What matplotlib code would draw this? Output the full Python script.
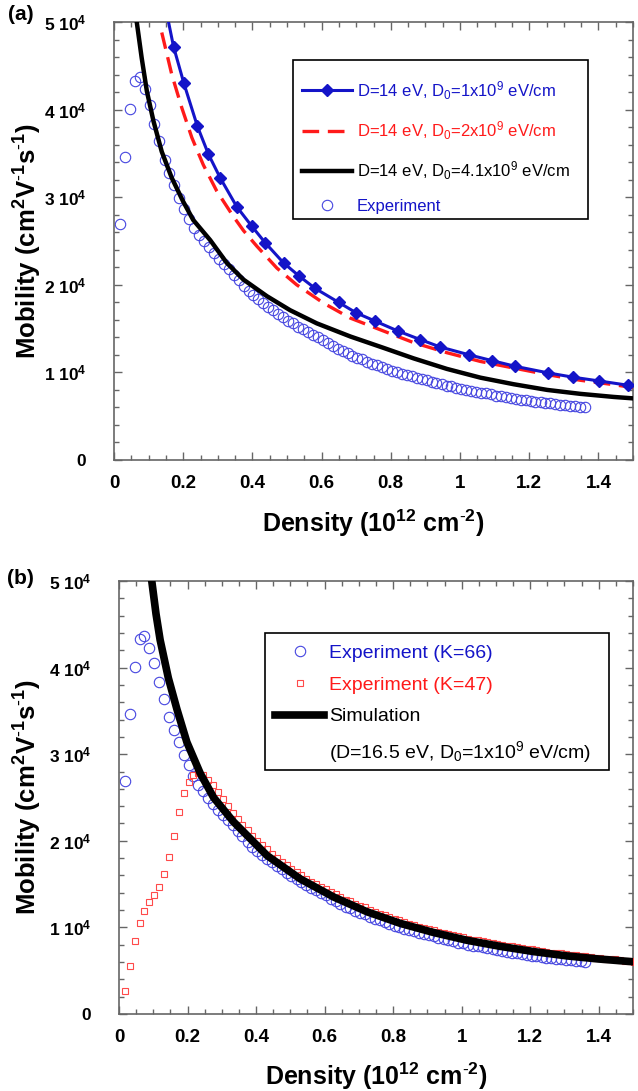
import matplotlib
matplotlib.use('Agg')
import matplotlib.pyplot as plt
from matplotlib.lines import Line2D
from matplotlib.patches import Rectangle
from matplotlib.ticker import FixedLocator, MultipleLocator

plt.rcParams['font.family'] = ['Liberation Sans', 'DejaVu Sans']
plt.rcParams['mathtext.fontset'] = 'custom'
plt.rcParams['mathtext.rm'] = 'Liberation Sans'
plt.rcParams['mathtext.it'] = 'Liberation Sans:italic'
plt.rcParams['mathtext.bf'] = 'Liberation Sans:bold'
plt.rcParams['mathtext.default'] = 'regular'

# ---- data (density in 1e12 cm^-2, mobility in cm^2/Vs) ----
density = [
    0.017, 0.031, 0.046, 0.060, 0.074, 0.089, 0.103, 0.117, 0.131, 0.146,
    0.160, 0.174, 0.189, 0.203, 0.217, 0.232, 0.246, 0.260, 0.274, 0.289,
    0.303, 0.317, 0.332, 0.346, 0.360, 0.375, 0.389, 0.403, 0.417, 0.432,
    0.446, 0.460, 0.475, 0.489, 0.503, 0.518, 0.532, 0.546, 0.560, 0.575,
    0.589, 0.603, 0.618, 0.632, 0.646, 0.661, 0.675, 0.689, 0.703, 0.718,
    0.732, 0.746, 0.761, 0.775, 0.789, 0.804, 0.818, 0.832, 0.846, 0.861,
    0.875, 0.889, 0.904, 0.918, 0.932, 0.947, 0.961, 0.975, 0.989, 1.004,
    1.018, 1.032, 1.047, 1.061, 1.075, 1.090, 1.104, 1.118, 1.132, 1.147,
    1.161, 1.175, 1.190, 1.204, 1.218, 1.233, 1.247, 1.261, 1.275, 1.290,
    1.304, 1.318, 1.333, 1.347, 1.361, 1.376, 1.390, 1.404, 1.418, 1.433,
    1.447, 1.461, 1.476, 1.490, 1.504,
]

# experiment, K=66 (first 95 densities)
mob_k66 = [
    26900, 34600, 40100, 43300, 43700, 42300, 40500, 38300, 36400, 34300,
    32800, 31400, 29900, 28700, 27500, 26500, 25700, 25000, 24300, 23600,
    23000, 22400, 21800, 21100, 20500, 19900, 19300, 18800, 18400, 17900,
    17500, 17100, 16700, 16300, 15900, 15600, 15200, 14900, 14600, 14300,
    14000, 13700, 13300, 13000, 12700, 12400, 12200, 11900, 11700, 11500,
    11200, 11000, 10800, 10600, 10400, 10200, 10000, 9850, 9700, 9550,
    9400, 9250, 9100, 8950, 8800, 8650, 8500, 8400, 8250, 8150,
    8000, 7900, 7800, 7700, 7600, 7500, 7350, 7250, 7150, 7050,
    7000, 6900, 6800, 6750, 6650, 6600, 6500, 6450, 6400, 6300,
    6250, 6200, 6150, 6100, 6050,
]

# experiment, K=47 (all densities)
mob_k47 = [
    2600, 5500, 8400, 10500, 11900, 12900, 13700, 14700, 16200, 18100,
    20600, 23300, 25500, 26800, 27600, 27800, 27600, 27000, 26400, 25600,
    24800, 24000, 23200, 22500, 21800, 21200, 20600, 20000, 19500, 19000,
    18500, 18000, 17600, 17200, 16800, 16400, 16000, 15600, 15300, 15000,
    14700, 14400, 14100, 13800, 13500, 13200, 13000, 12700, 12500, 12300,
    12000, 11800, 11600, 11400, 11200, 11000, 10800, 10600, 10450, 10300,
    10100, 9950, 9800, 9650, 9500, 9350, 9200, 9100, 8950, 8850,
    8700, 8600, 8500, 8400, 8300, 8200, 8100, 8000, 7900, 7800,
    7700, 7600, 7550, 7450, 7350, 7300, 7200, 7100, 7050, 7000,
    6900, 6850, 6800, 6700, 6650, 6550, 6500, 6450, 6400, 6350,
    6300, 6250, 6150, 6100, 6050,
]

# panel (a) model curves, D = 14 eV
n_d0_1 = [0.155, 0.172, 0.202, 0.241, 0.273, 0.307, 0.355, 0.398, 0.437, 0.490,
          0.535, 0.581, 0.649, 0.700, 0.755, 0.822, 0.885, 0.943, 1.027, 1.092,
          1.159, 1.254, 1.327, 1.401, 1.486, 1.530]
mu_d0_1 = [50500, 47200, 43000, 38100, 34900, 32200, 28900, 26700, 24800, 22500,
           21000, 19600, 18000, 16800, 15850, 14700, 13750, 12900, 12000, 11350,
           10700, 9950, 9450, 9030, 8530, 8300]

n_d0_2 = [0.138, 0.167, 0.196, 0.225, 0.258, 0.297, 0.345, 0.374, 0.413, 0.471,
          0.528, 0.606, 0.683, 0.774, 0.866, 0.962, 1.059, 1.155, 1.252, 1.348,
          1.444, 1.512]
mu_d0_2 = [48800, 44000, 40200, 36800, 33700, 30700, 27800, 26200, 24400, 21900,
           20000, 17900, 16200, 14800, 13400, 12250, 11250, 10500, 9750, 9100,
           8600, 8200]

n_d0_41 = [0.064, 0.080, 0.095, 0.114, 0.138, 0.167, 0.200, 0.229, 0.278, 0.326,
           0.374, 0.442, 0.509, 0.586, 0.683, 0.779, 0.866, 0.962, 1.059, 1.155,
           1.252, 1.348, 1.444, 1.512]
mu_d0_41 = [50500, 45900, 42100, 38700, 35200, 32200, 29500, 27400, 25100, 22500,
            20600, 18700, 17100, 15600, 14100, 12800, 11600, 10400, 9400, 8650,
            8000, 7550, 7200, 7000]

# panel (b) simulation, D = 16.5 eV, D0 = 1e9 eV/cm
n_sim = [0.094, 0.108, 0.120, 0.144, 0.169, 0.198, 0.237, 0.276, 0.334, 0.432,
         0.529, 0.627, 0.724, 0.822, 0.919, 1.017, 1.114, 1.211, 1.309, 1.400,
         1.510]
mu_sim = [50500, 46200, 43200, 38800, 35200, 31400, 27800, 25000, 22200, 18300,
          15600, 13500, 11800, 10450, 9400, 8500, 7800, 7200, 6700, 6350,
          6000]

xticks = [0, 0.2, 0.4, 0.6, 0.8, 1.0, 1.2, 1.4]
xtick_labels = ['0', '0.2', '0.4', '0.6', '0.8', '1', '1.2', '1.4']
yticks = [0, 10000, 20000, 30000, 40000, 50000]
ytick_labels = ['0', '1 10$^4$', '2 10$^4$', '3 10$^4$', '4 10$^4$', '5 10$^4$']

blue = '#1414c8'
circ = '#4646e0'
red = '#ff1a1a'
sq = '#ff4a4a'

W, H = 638, 1091
fig = plt.figure(figsize=(W / 100, H / 100), dpi=100)
ax_a = fig.add_axes([114 / W, 1 - 460 / H, (633 - 114) / W, (460 - 22) / H])
ax_b = fig.add_axes([119 / W, 1 - 1014 / H, (633 - 119) / W, (1014 - 581) / H])


def style(ax):
    ax.set_xlim(0, 1.5)
    ax.set_ylim(0, 50000)
    ax.xaxis.set_major_locator(FixedLocator(xticks))
    ax.set_xticklabels(xtick_labels, fontsize=13.5, fontweight='bold')
    ax.xaxis.set_minor_locator(MultipleLocator(0.05))
    ax.yaxis.set_major_locator(FixedLocator(yticks))
    ax.set_yticklabels(ytick_labels, fontsize=12.5, fontweight='bold')
    ax.yaxis.set_minor_locator(MultipleLocator(2000))
    ax.tick_params(which='both', direction='in', top=True, right=True,
                   color='#666666', width=1.0)
    ax.tick_params(which='major', length=6)
    ax.tick_params(which='minor', length=3.5)
    ax.tick_params(axis='x', pad=11)
    ax.tick_params(axis='y', pad=20)
    for s in ax.spines.values():
        s.set_color('#666666')
        s.set_linewidth(1.2)
    ax.set_xlabel('Density (10$^{12}$ cm$^{\\text{-}2}$)', fontsize=18, fontweight='bold')
    ax.set_ylabel('Mobility (cm$^2$V$^{\\text{-}1}$s$^{\\text{-}1}$)', fontsize=18.5,
                  fontweight='bold')


def frame(ax, x0, y0, x1, y1):
    ax.add_patch(Rectangle((x0, y0), x1 - x0, y1 - y0, transform=ax.transAxes,
                           facecolor='white', edgecolor='black', lw=1.2, zorder=9))


# ---- panel (a) ----
ax = ax_a
ax.plot(density[:95], mob_k66, 'o', ms=7.5, mfc='none', mec=circ, mew=0.8,
        label='Experiment', zorder=2)
ax.plot(n_d0_41, mu_d0_41, color='black', lw=3.2,
        label='D=14 eV, D$_0$=4.1x10$^9$ eV/cm', zorder=3)
ax.plot(n_d0_2, mu_d0_2, color=red, lw=2.4, dashes=(5, 2.6),
        label='D=14 eV, D$_0$=2x10$^9$ eV/cm', zorder=4)
ax.plot(n_d0_1, mu_d0_1, color=blue, lw=2.2, marker='D', ms=6.5,
        markevery=slice(1, -1), label='D=14 eV, D$_0$=1x10$^9$ eV/cm', zorder=5)
style(ax)
ax.yaxis.set_label_coords(-0.135, 0.5)
ax.xaxis.set_label_coords(0.5, -0.108)

frame(ax, 0.345, 0.550, 0.913, 0.913)
h, l = ax.get_legend_handles_labels()
order = [3, 2, 1, 0]
leg = ax.legend([h[i] for i in order], [l[i] for i in order],
                loc='upper left', bbox_to_anchor=(0.362, 0.870),
                fontsize=12, frameon=False, handlelength=3.0, handletextpad=0.3,
                labelspacing=1.05, borderpad=0, borderaxespad=0)
leg.set_zorder(10)
for t, c in zip(leg.get_texts(), [blue, red, 'black', blue]):
    t.set_color(c)

# ---- panel (b) ----
ax = ax_b
ax.plot(density[:95], mob_k66, 'o', ms=7.5, mfc='none', mec=circ, mew=0.8,
        label='Experiment (K=66)', zorder=2)
ax.plot(density, mob_k47, 's', ms=4.5, mfc='none', mec=sq, mew=0.8,
        label='Experiment (K=47)', zorder=3)
ax.plot(n_sim, mu_sim, color='black', lw=5.5, label='Simulation', zorder=4)
style(ax)
ax.yaxis.set_label_coords(-0.146, 0.5)
ax.xaxis.set_label_coords(0.5, -0.107)

frame(ax, 0.284, 0.5635, 0.953, 0.880)
h, l = ax.get_legend_handles_labels()
h.append(Line2D([], [], color='none'))
l.append('(D=16.5 eV, D$_0$=1x10$^9$ eV/cm)')
leg = ax.legend(h, l, loc='upper left', bbox_to_anchor=(0.304, 0.853),
                fontsize=14, frameon=False, handlelength=2.5, handletextpad=0.25,
                labelspacing=0.72, borderpad=0, borderaxespad=0)
leg.set_zorder(10)
for t, c in zip(leg.get_texts(), [blue, red, 'black', 'black']):
    t.set_color(c)

fig.text(8 / W, 1 - 15 / H, '(a)', fontsize=15, fontweight='bold', va='center')
fig.text(7 / W, 1 - 578 / H, '(b)', fontsize=15, fontweight='bold', va='center')

fig.savefig('out.png', dpi=100)
